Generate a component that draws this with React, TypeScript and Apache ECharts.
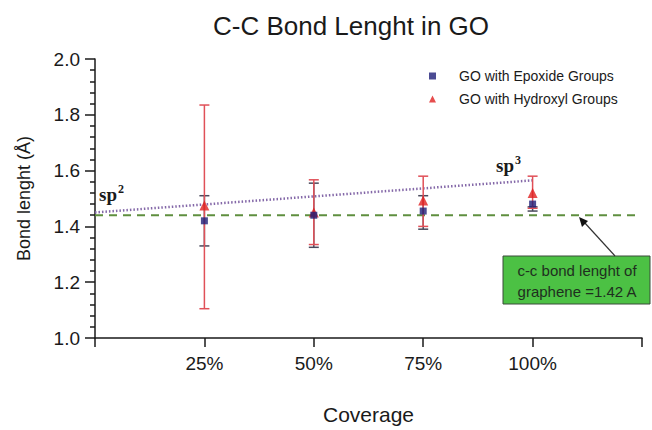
import React, { useEffect, useRef } from "react";
import * as echarts from "echarts";

// ---- data ----
const coverage = [25, 50, 75, 100];
const xTickLabels = ["", "25%", "50%", "75%", "100%", ""];
const epoxide = [1.42, 1.44, 1.455, 1.48];
const epoxideLow = [1.33, 1.325, 1.39, 1.455];
const epoxideHigh = [1.51, 1.555, 1.51, 1.47];
const hydroxyl = [1.475, 1.45, 1.493, 1.52];
const hydroxylLow = [1.105, 1.335, 1.4, 1.465];
const hydroxylHigh = [1.835, 1.567, 1.58, 1.58];
const trendX = [0, 100];
const trendY = [1.45, 1.565];
const grapheneX = [0, 124];
const grapheneY = [1.44, 1.44];
const seriesNames = ["GO with Epoxide Groups", "GO with Hydroxyl Groups"];

const FONT = "Arial, 'Liberation Sans', Helvetica, sans-serif";
const SERIF = "'Liberation Serif', 'Times New Roman', serif";

function errorSeries(low: number[], high: number[], color: string, z: number) {
  return {
    type: "custom",
    z,
    silent: true,
    data: coverage.map((c, i) => [c, low[i], high[i]]),
    renderItem: (params: any, api: any) => {
      const x = api.value(0);
      const lo = api.coord([x, api.value(1)]);
      const hi = api.coord([x, api.value(2)]);
      const hw = 5;
      const style = { stroke: color, lineWidth: 1.5 };
      return {
        type: "group",
        children: [
          { type: "line", shape: { x1: lo[0], y1: lo[1], x2: hi[0], y2: hi[1] }, style },
          { type: "line", shape: { x1: lo[0] - hw, y1: lo[1], x2: lo[0] + hw, y2: lo[1] }, style },
          { type: "line", shape: { x1: hi[0] - hw, y1: hi[1], x2: hi[0] + hw, y2: hi[1] }, style },
        ],
      };
    },
  };
}

export default function App() {
  const ref = useRef<HTMLDivElement>(null);
  useEffect(() => {
    if (!ref.current) return;
    const chart = echarts.init(ref.current, null, { renderer: "svg" });
    chart.setOption({
      animation: false,
      backgroundColor: "#ffffff",
      title: {
        text: "C-C Bond Lenght in GO",
        left: 346,
        top: 8,
        textAlign: "center",
        textStyle: { fontFamily: FONT, fontSize: 26, fontWeight: "normal", color: "#1a1a1a" },
      },
      legend: {
        orient: "vertical",
        left: 424,
        top: 64,
        itemWidth: 7,
        itemHeight: 7,
        itemGap: 9,
        data: [
          { name: seriesNames[0], icon: "rect" },
          { name: seriesNames[1], icon: "triangle" },
        ],
        textStyle: { fontFamily: FONT, fontSize: 14, color: "#1a1a1a", padding: [0, 0, 0, 18] },
      },
      grid: { left: 95, right: 10, top: 59, bottom: 87 },
      xAxis: {
        type: "value",
        min: 0,
        max: 125,
        interval: 25,
        name: "Coverage",
        nameLocation: "middle",
        nameGap: 66,
        nameTextStyle: { fontFamily: FONT, fontSize: 21, color: "#1a1a1a" },
        axisLine: { show: true, lineStyle: { color: "#1a1a1a", width: 1.5 } },
        axisTick: { show: true, inside: false, length: 9, lineStyle: { color: "#1a1a1a", width: 1.5 } },
        axisLabel: {
          fontFamily: FONT,
          fontSize: 19,
          color: "#1a1a1a",
          margin: 16,
          formatter: (v: number) => xTickLabels[Math.round(v / 25)] ?? "",
        },
        splitLine: { show: false },
      },
      yAxis: {
        type: "value",
        min: 1,
        max: 2,
        interval: 0.2,
        name: "Bond lenght (Å)",
        nameLocation: "middle",
        nameGap: 62,
        nameTextStyle: { fontFamily: FONT, fontSize: 18, color: "#1a1a1a" },
        axisLine: { show: true, lineStyle: { color: "#1a1a1a", width: 1.5 } },
        axisTick: { show: true, inside: false, length: 10, lineStyle: { color: "#1a1a1a", width: 1.5 } },
        minorTick: { show: true, splitNumber: 5, length: 5, lineStyle: { color: "#1a1a1a", width: 1.5 } },
        axisLabel: {
          fontFamily: FONT,
          fontSize: 19,
          color: "#1a1a1a",
          margin: 15,
          formatter: (v: number) => v.toFixed(1),
        },
        splitLine: { show: false },
        minorSplitLine: { show: false },
      },
      series: [
        {
          type: "line",
          silent: true,
          data: grapheneX.map((x, i) => [x, grapheneY[i]]),
          symbol: "none",
          lineStyle: { color: "#5f8f3f", width: 2, type: [8, 6] },
          z: 1,
        },
        {
          type: "line",
          silent: true,
          data: trendX.map((x, i) => [x, trendY[i]]),
          symbol: "none",
          lineStyle: { color: "#8468a8", width: 2.5, type: [1.5, 2] },
          z: 2,
        },
        errorSeries(epoxideLow, epoxideHigh, "#4a4a5c", 3),
        errorSeries(hydroxylLow, hydroxylHigh, "#e05058", 4),
        {
          name: seriesNames[0],
          type: "scatter",
          symbol: "rect",
          symbolSize: 7,
          itemStyle: { color: "#1e1e78" },
          data: coverage.map((c, i) => [c, epoxide[i]]),
          z: 6,
        },
        {
          name: seriesNames[1],
          type: "scatter",
          symbol: "triangle",
          symbolSize: 10,
          itemStyle: { color: "#e02020" },
          data: coverage.map((c, i) => [c, hydroxyl[i]]),
          z: 5,
        },
      ],
      graphic: [
        {
          type: "text",
          left: 99,
          top: 185,
          style: { text: "sp", font: `bold 19px ${SERIF}`, fill: "#1a1a1a" },
        },
        {
          type: "text",
          left: 118,
          top: 183,
          style: { text: "2", font: `bold 12px ${SERIF}`, fill: "#1a1a1a" },
        },
        {
          type: "text",
          left: 496,
          top: 156,
          style: { text: "sp", font: `bold 19px ${SERIF}`, fill: "#1a1a1a" },
        },
        {
          type: "text",
          left: 515,
          top: 154,
          style: { text: "3", font: `bold 12px ${SERIF}`, fill: "#1a1a1a" },
        },
        {
          type: "rect",
          shape: { x: 503, y: 256, width: 147, height: 48 },
          style: { fill: "#4cc144", stroke: "#3a4a3a", lineWidth: 1 },
          z: 10,
        },
        {
          type: "text",
          x: 577,
          y: 270,
          style: {
            text: "c-c bond lenght of",
            font: `15px ${FONT}`,
            fill: "#1f2f1f",
            align: "center",
            verticalAlign: "middle",
          },
          z: 11,
        },
        {
          type: "text",
          x: 577,
          y: 291,
          style: {
            text: "graphene =1.42 A",
            font: `15px ${FONT}`,
            fill: "#1f2f1f",
            align: "center",
            verticalAlign: "middle",
          },
          z: 11,
        },
        {
          type: "line",
          shape: { x1: 615, y1: 256, x2: 584, y2: 222 },
          style: { stroke: "#333", lineWidth: 1.2 },
          z: 10,
        },
        {
          type: "polygon",
          shape: { points: [[579, 217], [588, 221], [582, 227]] },
          style: { fill: "#111" },
          z: 10,
        },
      ],
    });
    return () => chart.dispose();
  }, []);
  return (
    <div
      ref={ref}
      style={{ position: "absolute", left: 0, top: 0, width: 652, height: 430 }}
    />
  );
}
